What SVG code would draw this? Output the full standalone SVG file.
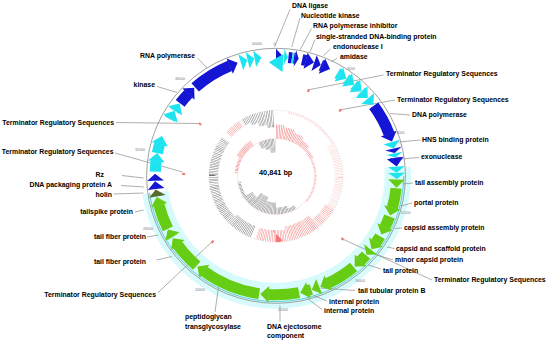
<svg xmlns="http://www.w3.org/2000/svg" width="550" height="343" viewBox="0 0 550 343">
<style>
.lb{font-family:"Liberation Sans",Arial,sans-serif;font-size:6.9px;font-weight:bold;fill:#000}
.e{text-anchor:end}
.tk{font-family:"Liberation Sans",Arial,sans-serif;font-size:3.6px;fill:#7a7a7a;text-anchor:middle}
.ld{stroke:#8c8c8c;stroke-width:0.7;fill:none}
.b{fill:none;stroke-width:11}
.B{stroke:#1515d4}.C{stroke:#1fe4ef}.G{stroke:#67cc14}
.hB{fill:#1515d4}.hC{fill:#1fe4ef}.hG{fill:#67cc14}.hO{fill:#566b2c}
.m{fill:none;stroke:#fff}
.tm{fill:none;stroke:#ef7f7f;stroke-width:3}
</style>
<defs>
<path id="h" d="M0,-127 L8.5,-119 L0,-110.5 Z"/>
<path id="hr" d="M0,-122 L-14,-113 L0,-104 Z"/>
<mask id="mOG" maskUnits="userSpaceOnUse" x="-200" y="-200" width="400" height="400">
<circle class="m" r="62.5" stroke-width="7" pathLength="360" stroke-dasharray="6 360" transform="rotate(-121)"/>
<circle class="m" r="61" stroke-width="10" pathLength="360" stroke-dasharray="7 360" transform="rotate(-115)"/>
<circle class="m" r="59" stroke-width="14" pathLength="360" stroke-dasharray="8 360" transform="rotate(-108)"/>
<circle class="m" r="57.5" stroke-width="17" pathLength="360" stroke-dasharray="8 360" transform="rotate(-100)"/>
<circle class="m" r="60" stroke-width="12" pathLength="360" stroke-dasharray="23 360" transform="rotate(112)"/>
<circle class="m" r="61.5" stroke-width="9" pathLength="360" stroke-dasharray="81 360" transform="rotate(135)"/>
</mask>
<mask id="mOP" maskUnits="userSpaceOnUse" x="-200" y="-200" width="400" height="400">
<circle class="m" r="62.5" stroke-width="7" pathLength="360" stroke-dasharray="15 360" transform="rotate(-138)"/>
<circle class="m" r="62" stroke-width="8" pathLength="360" stroke-dasharray="60 360" transform="rotate(-30)" style="stroke:#5a5a5a"/>
<circle class="m" r="64.75" stroke-width="2.5" pathLength="360" stroke-dasharray="50 360" transform="rotate(-80)" style="stroke:#777"/>
<circle class="m" r="61" stroke-width="10" pathLength="360" stroke-dasharray="20 360" transform="rotate(30)" style="stroke:#ccc"/>
<circle class="m" r="58.5" stroke-width="15" pathLength="360" stroke-dasharray="30 360" transform="rotate(50)"/>
<circle class="m" r="60" stroke-width="12" pathLength="360" stroke-dasharray="28 360" transform="rotate(80)"/>
</mask>
<mask id="mIP" maskUnits="userSpaceOnUse" x="-200" y="-200" width="400" height="400">
<circle class="m" r="45" stroke-width="14" pathLength="360" stroke-dasharray="10 360" transform="rotate(-90)"/>
<circle class="m" r="44" stroke-width="12" pathLength="360" stroke-dasharray="12 360" transform="rotate(-80)"/>
<circle class="m" r="42.75" stroke-width="9.5" pathLength="360" stroke-dasharray="13 360" transform="rotate(-68)"/>
<circle class="m" r="41.25" stroke-width="6.5" pathLength="360" stroke-dasharray="13 360" transform="rotate(-55)"/>
<circle class="m" r="39.75" stroke-width="3.5" pathLength="360" stroke-dasharray="15 360" transform="rotate(-42)"/>
<circle class="m" r="39" stroke-width="2" pathLength="360" stroke-dasharray="67 360" transform="rotate(-27)" style="stroke:#aaa"/>
<circle class="m" r="41" stroke-width="6" pathLength="360" stroke-dasharray="27 360" transform="rotate(-152)"/>
<circle class="m" r="39.5" stroke-width="3" pathLength="360" stroke-dasharray="23 360" transform="rotate(-175)"/>
</mask>
<mask id="mIG" maskUnits="userSpaceOnUse" x="-200" y="-200" width="400" height="400">
<circle class="m" r="34.5" stroke-width="7" pathLength="360" stroke-dasharray="7 360" transform="rotate(-117)"/>
<circle class="m" r="33" stroke-width="10" pathLength="360" stroke-dasharray="8 360" transform="rotate(-110)"/>
<circle class="m" r="31" stroke-width="14" pathLength="360" stroke-dasharray="11 360" transform="rotate(-102)"/>
<circle class="m" r="36" stroke-width="4" pathLength="360" stroke-dasharray="12 360" transform="rotate(58)"/>
<circle class="m" r="34.5" stroke-width="7" pathLength="360" stroke-dasharray="20 360" transform="rotate(70)"/>
<circle class="m" r="32" stroke-width="12" pathLength="360" stroke-dasharray="20 360" transform="rotate(90)"/>
<circle class="m" r="30" stroke-width="16" pathLength="360" stroke-dasharray="22 360" transform="rotate(110)"/>
<circle class="m" r="33" stroke-width="10" pathLength="360" stroke-dasharray="15 360" transform="rotate(132)"/>
<circle class="m" r="36.5" stroke-width="3" pathLength="360" stroke-dasharray="25 360" transform="rotate(147)"/>
</mask>
</defs>
<rect width="550" height="343" fill="#fff"/>

<g id="backbone" transform="translate(276 175.8) scale(1.015 1)">
<circle r="120" fill="none" stroke="#d7fbfc" stroke-width="26" pathLength="360" stroke-dasharray="176 360" transform="rotate(-4)"/>
<circle r="127.5" fill="none" stroke="#8a8a8a" stroke-width="0.8"/>
<circle r="125.8" fill="none" stroke="#3cc6c6" stroke-width="0.8" pathLength="360" stroke-dasharray="172 360" transform="rotate(0)"/>
</g>

<g id="gc-content" transform="translate(276 176.3) scale(1.015 1)">
<circle r="66" fill="none" stroke="#b5b5b5" stroke-width="0.5" stroke-dasharray="0.6 1.2"/>
<circle r="57.5" fill="none" stroke="#707070" stroke-width="18" pathLength="360" stroke-dasharray="0.45 1.05" mask="url(#mOG)"/>
<circle r="57.5" fill="none" stroke="#f07878" stroke-width="18" pathLength="360" stroke-dasharray="0.45 1.05" mask="url(#mOP)"/>
</g>
<g id="gc-skew" transform="translate(276 176.5) scale(1.015 1)">
<circle r="38" fill="none" stroke="#f3a5a5" stroke-width="0.6" stroke-dasharray="0.7 0.9"/>
<circle r="45" fill="none" stroke="#f07878" stroke-width="15" pathLength="360" stroke-dasharray="0.7 1.3" mask="url(#mIP)"/>
<circle r="29.5" fill="none" stroke="#707070" stroke-width="17" pathLength="360" stroke-dasharray="0.8 1.4" mask="url(#mIG)"/>
</g>

<g id="connectors">
<path class="ld" d="M290,9.5 L274.5,47"/>
<path class="ld" d="M300,18 L291.7,47"/>
<path class="ld" d="M311.5,28.5 L300,50"/>
<path class="ld" d="M315,39.5 L310,52"/>
<path class="ld" d="M330.5,49 L323.5,55.5"/>
<path class="ld" d="M337,58.5 L331.5,61.5"/>
<path class="ld" d="M383.5,75 L307.5,90"/>
<path class="ld" d="M395,100 L339,110"/>
<path class="ld" d="M410,115 L390,113.5"/>
<path class="ld" d="M420.5,140 L398.5,142"/>
<path class="ld" d="M419,157.5 L400.5,159"/>
<path class="ld" d="M413,183 L402.5,184"/>
<path class="ld" d="M412,203 L400.5,206"/>
<path class="ld" d="M402,228 L395,228.5"/>
<path class="ld" d="M394.5,248.5 L387,247"/>
<path class="ld" d="M393,260 L377.5,255"/>
<path class="ld" d="M381,269 L368.5,265"/>
<path class="ld" d="M432,280 L341.5,238.5"/>
<path class="ld" d="M355,290.5 L320.5,288"/>
<path class="ld" d="M327,301 L313.5,295.5"/>
<path class="ld" d="M322,309.5 L307.5,298.5"/>
<path class="ld" d="M280,321.5 L280,305.5"/>
<path class="ld" d="M215,312 L218.5,287"/>
<path class="ld" d="M158,292.5 L213.5,240.5"/>
<path class="ld" d="M197.5,58 L207,68"/>
<path class="ld" d="M157,86.5 L177,92.5"/>
<path class="ld" d="M116,122.5 L198.5,123.5"/>
<path class="ld" d="M115,153 L182.5,172"/>
<path class="ld" d="M122,175.5 L143.5,178"/>
<path class="ld" d="M121,185.5 L144,187"/>
<path class="ld" d="M113.5,194 L143.5,193"/>
<path class="ld" d="M135,212 L143.5,210"/>
<path class="ld" d="M147,237 L158.5,235"/>
<path class="ld" d="M156.5,260 L172,256.5"/>
</g>

<g id="dna-ligase"><g transform="translate(276 175.8) scale(1.015 1)"><use href="#h" class="hB" transform="rotate(0) scale(0.856 1)"/></g><text class="lb" x="292" y="7.5">DNA ligase</text></g>
<g id="orf-cyan-1"><g transform="translate(276 175.8) scale(1.015 1)"><use href="#h" class="hC" transform="rotate(3.8) scale(0.44 1)"/><use href="#hr" class="hC" transform="rotate(3.5)"/></g></g>
<g id="nucleotide-kinase"><g transform="translate(276 175.8) scale(1.015 1)"><circle class="b B" r="119" pathLength="360" stroke-dasharray="1.7 360" transform="rotate(-84.1)"/></g><text class="lb" x="301" y="17.8">Nucleotide kinase</text></g>
<g id="orf-cyan-2"><g transform="translate(276 175.8) scale(1.015 1)"><circle class="b C" r="119" pathLength="360" stroke-dasharray="0.9 360" transform="rotate(-82.4)"/></g></g>
<g id="rna-polymerase-inhibitor"><g transform="translate(276 175.8) scale(1.015 1)"><circle class="b B" r="119" pathLength="360" stroke-dasharray="0.6 360" transform="rotate(-81.5)"/><use href="#h" class="hB" transform="rotate(9) scale(0.44 1)"/></g><text class="lb" x="313" y="28">RNA polymerase inhibitor</text></g>
<g id="ssdna-binding-protein"><g transform="translate(276 175.8) scale(1.015 1)"><circle class="b B" r="119" pathLength="360" stroke-dasharray="1.86 360" transform="rotate(-77.5)"/><use href="#h" class="hB" transform="rotate(14.21)"/></g><text class="lb" x="316" y="38.7">single-stranded DNA-binding protein</text></g>
<g id="endonuclease-i"><g transform="translate(276 175.8) scale(1.015 1)"><use href="#h" class="hB" transform="rotate(18.4) scale(0.807 1)"/></g><text class="lb" x="333" y="49.3">endonuclease I</text></g>
<g id="amidase"><g transform="translate(276 175.8) scale(1.015 1)"><circle class="b B" r="119" pathLength="360" stroke-dasharray="0.76 360" transform="rotate(-68.2)"/><use href="#h" class="hB" transform="rotate(22.41)"/></g><text class="lb" x="340" y="59.3">amidase</text></g>
<g id="orf-cyan-3"><g transform="translate(276 175.8) scale(1.015 1)">
<circle class="b C" r="119" pathLength="360" stroke-dasharray="1.06 360" transform="rotate(-59.5)"/><use href="#h" class="hC" transform="rotate(31.41)"/>
<circle class="b C" r="119" pathLength="360" stroke-dasharray="0.76 360" transform="rotate(-54.5)"/><use href="#h" class="hC" transform="rotate(36.11)"/>
<circle class="b C" r="119" pathLength="360" stroke-dasharray="0.76 360" transform="rotate(-49.8)"/><use href="#h" class="hC" transform="rotate(40.81)"/>
<circle class="b C" r="119" pathLength="360" stroke-dasharray="0.46 360" transform="rotate(-45.1)"/><use href="#h" class="hC" transform="rotate(45.21)"/>
<use href="#h" class="hC" transform="rotate(49.5) scale(0.978 1)"/>
</g></g>
<g id="dna-polymerase"><g transform="translate(276 175.8) scale(1.015 1)"><circle class="b B" r="119" pathLength="360" stroke-dasharray="15.36 360" transform="rotate(-36)"/><use href="#h" class="hB" transform="rotate(69.21)"/></g><text class="lb" x="412" y="117">DNA polymerase</text></g>
<g id="orf-cyan-4"><g transform="translate(276 175.8) scale(1.015 1)"><use href="#h" class="hC" transform="rotate(73.5) scale(0.782 1)"/><use href="#h" class="hC" transform="rotate(79.1) scale(0.513 1)"/></g></g>
<g id="hns-binding-protein"><g transform="translate(276 175.8) scale(1.015 1)"><use href="#h" class="hB" transform="rotate(76.8) scale(0.538 1)"/></g><text class="lb" x="422" y="142">HNS binding protein</text></g>
<g id="exonuclease"><g transform="translate(276 175.8) scale(1.015 1)"><circle class="b B" r="119" pathLength="360" stroke-dasharray="0.3 360" transform="rotate(-8.7)"/><use href="#h" class="hB" transform="rotate(81.41)"/></g><text class="lb" x="421" y="159.3">exonuclease</text></g>
<g id="orf-cyan-5"><g transform="translate(276 175.8) scale(1.015 1)"><use href="#h" class="hC" transform="rotate(85.6) scale(0.709 1)"/><use href="#h" class="hC" transform="rotate(88.6) scale(0.733 1)"/></g></g>
<g id="tail-assembly-protein"><g transform="translate(276 175.8) scale(1.015 1)"><use href="#h" class="hG" transform="rotate(91.8) scale(0.978 1)"/></g><text class="lb" x="415" y="185">tail assembly protein</text></g>
<g id="portal-protein"><g transform="translate(276 175.8) scale(1.015 1)"><circle class="b G" r="119" pathLength="360" stroke-dasharray="9.56 360" transform="rotate(6)"/><use href="#h" class="hG" transform="rotate(105.41)"/></g><text class="lb" x="414" y="205">portal protein</text></g>
<g id="capsid-assembly-protein"><g transform="translate(276 175.8) scale(1.015 1)"><circle class="b G" r="119" pathLength="360" stroke-dasharray="5.56 360" transform="rotate(20)"/><use href="#h" class="hG" transform="rotate(115.41)"/></g><text class="lb" x="404" y="230">capsid assembly protein</text></g>
<g id="capsid-scaffold-protein"><g transform="translate(276 175.8) scale(1.015 1)"><circle class="b G" r="119" pathLength="360" stroke-dasharray="3.56 360" transform="rotate(30.5)"/><use href="#h" class="hG" transform="rotate(123.91)"/></g><text class="lb" x="396" y="251">capsid and scaffold protein</text></g>
<g id="minor-capsid-protein"><g transform="translate(276 175.8) scale(1.015 1)"><use href="#h" class="hG" transform="rotate(128.3) scale(0.782 1)"/></g><text class="lb" x="395" y="262.3">minor capsid protein</text></g>
<g id="tail-protein"><g transform="translate(276 175.8) scale(1.015 1)"><circle class="b G" r="119" pathLength="360" stroke-dasharray="3.76 360" transform="rotate(41.8)"/><use href="#h" class="hG" transform="rotate(135.41)"/></g><text class="lb" x="383" y="273">tail protein</text></g>
<g id="tail-tubular-protein-b"><g transform="translate(276 175.8) scale(1.015 1)"><circle class="b G" r="119" pathLength="360" stroke-dasharray="14.56 360" transform="rotate(50)"/><use href="#h" class="hG" transform="rotate(154.41)"/></g><text class="lb" x="358" y="293">tail tubular protein B</text></g>
<g id="internal-protein-1"><g transform="translate(276 175.8) scale(1.015 1)"><use href="#h" class="hG" transform="rotate(159) scale(0.929 1)"/></g><text class="lb" x="329" y="304">internal protein</text></g>
<g id="internal-protein-2"><g transform="translate(276 175.8) scale(1.015 1)"><circle class="b G" r="119" pathLength="360" stroke-dasharray="1.56 360" transform="rotate(73)"/><use href="#h" class="hG" transform="rotate(164.41)"/></g><text class="lb" x="324" y="313">internal protein</text></g>
<g id="dna-ejectosome-component"><g transform="translate(276 175.8) scale(1.015 1)"><circle class="b G" r="119" pathLength="360" stroke-dasharray="14.56 360" transform="rotate(79)"/><use href="#h" class="hG" transform="rotate(183.41)"/></g><text class="lb" x="267" y="329">DNA ejectosome</text><text class="lb" x="267" y="338">component</text></g>
<g id="peptidoglycan-transglycosylase"><g transform="translate(276 175.8) scale(1.015 1)"><circle class="b G" r="119" pathLength="360" stroke-dasharray="28.56 360" transform="rotate(98)"/><use href="#h" class="hG" transform="rotate(216.41)"/></g><text class="lb" x="185" y="319">peptidoglycan</text><text class="lb" x="185" y="328.5">transglycosylase</text></g>
<g id="tail-fiber-protein-2"><g transform="translate(276 175.8) scale(1.015 1)"><circle class="b G" r="119" pathLength="360" stroke-dasharray="13.56 360" transform="rotate(131)"/><use href="#h" class="hG" transform="rotate(234.41)"/></g><text class="lb e" x="146" y="263.5">tail fiber protein</text></g>
<g id="tail-fiber-protein-1"><g transform="translate(276 175.8) scale(1.015 1)"><circle class="b G" r="119" pathLength="360" stroke-dasharray="0.36 360" transform="rotate(149)"/><use href="#h" class="hG" transform="rotate(239.21)"/></g><text class="lb e" x="146" y="238.5">tail fiber protein</text></g>
<g id="tailspike-protein"><g transform="translate(276 175.8) scale(1.015 1)"><circle class="b G" r="119" pathLength="360" stroke-dasharray="12.36 360" transform="rotate(153.5)"/><use href="#h" class="hG" transform="rotate(255.71)"/></g><text class="lb e" x="133" y="214">tailspike protein</text></g>
<g id="holin"><g transform="translate(276 175.8) scale(1.015 1)"><use href="#h" class="hO" transform="rotate(260) scale(0.831 1)"/></g><text class="lb e" x="112" y="196.7">holin</text></g>
<g id="dna-packaging-protein-a"><g transform="translate(276 175.8) scale(1.015 1)"><use href="#h" class="hB" transform="rotate(263.6) scale(0.929 1)"/></g><text class="lb e" x="112" y="187">DNA packaging protein A</text></g>
<g id="rz"><g transform="translate(276 175.8) scale(1.015 1)"><use href="#h" class="hB" transform="rotate(267.6) scale(0.831 1)"/></g><text class="lb e" x="104" y="177.3">Rz</text></g>
<g id="orf-cyan-6"><g transform="translate(276 175.8) scale(1.015 1)">
<circle class="b C" r="119" pathLength="360" stroke-dasharray="5.06 360" transform="rotate(182)"/><use href="#h" class="hC" transform="rotate(276.91)"/>
<circle class="b C" r="119" pathLength="360" stroke-dasharray="4.56 360" transform="rotate(191)"/><use href="#h" class="hC" transform="rotate(285.41)"/>
<circle class="b C" r="119" pathLength="360" stroke-dasharray="0.56 360" transform="rotate(208.5)"/><use href="#h" class="hC" transform="rotate(298.91)"/>
<circle class="b C" r="119" pathLength="360" stroke-dasharray="0.36 360" transform="rotate(213)"/><use href="#h" class="hC" transform="rotate(303.21)"/>
</g></g>
<g id="kinase"><g transform="translate(276 175.8) scale(1.015 1)"><circle class="b B" r="119" pathLength="360" stroke-dasharray="6.06 360" transform="rotate(217.5)"/><use href="#h" class="hB" transform="rotate(313.41)"/></g><text class="lb e" x="155" y="87">kinase</text></g>
<g id="rna-polymerase"><g transform="translate(276 175.8) scale(1.015 1)"><circle class="b B" r="119" pathLength="360" stroke-dasharray="19.56 360" transform="rotate(228)"/><use href="#h" class="hB" transform="rotate(337.41)"/></g><text class="lb e" x="195" y="57.5">RNA polymerase</text></g>
<g id="orf-cyan-7"><g transform="translate(276 175.8) scale(1.015 1)"><use href="#h" class="hC" transform="rotate(343) scale(0.807 1)"/><use href="#h" class="hC" transform="rotate(346.4) scale(0.807 1)"/><use href="#h" class="hC" transform="rotate(349.8) scale(0.807 1)"/></g></g>

<g id="terminator-1"><g transform="translate(276 175.8) scale(1.015 1)"><circle class="tm" r="91" pathLength="360" stroke-dasharray="1.4 360" transform="rotate(-70.1)"/></g><text class="lb" x="386" y="76">Terminator Regulatory Sequences</text></g>
<g id="terminator-2"><g transform="translate(276 175.8) scale(1.015 1)"><circle class="tm" r="91" pathLength="360" stroke-dasharray="1.4 360" transform="rotate(-46.6)"/></g><text class="lb" x="397" y="101.5">Terminator Regulatory Sequences</text></g>
<g id="terminator-3"><g transform="translate(276 175.8) scale(1.015 1)"><circle class="tm" r="91" pathLength="360" stroke-dasharray="1.4 360" transform="rotate(43.3)"/></g><text class="lb" x="434" y="281.5">Terminator Regulatory Sequences</text></g>
<g id="terminator-4"><g transform="translate(276 175.8) scale(1.015 1)"><circle class="tm" r="91" pathLength="360" stroke-dasharray="1.4 360" transform="rotate(132.8)"/></g><text class="lb e" x="156" y="297">Terminator Regulatory Sequences</text></g>
<g id="terminator-5"><g transform="translate(276 175.8) scale(1.015 1)"><circle class="tm" r="91" pathLength="360" stroke-dasharray="1.4 360" transform="rotate(-179.5)"/></g><text class="lb e" x="113.5" y="154">Terminator Regulatory Sequences</text></g>
<g id="terminator-6"><g transform="translate(276 175.8) scale(1.015 1)"><circle class="tm" r="91" pathLength="360" stroke-dasharray="1.4 360" transform="rotate(-146)"/></g><text class="lb e" x="114" y="125">Terminator Regulatory Sequences</text></g>

<g id="genome-size"><text x="275.7" y="174.8" style="font-family:'Liberation Sans',Arial,sans-serif;font-size:7.3px;font-weight:bold;fill:#000;text-anchor:middle">40,841 bp</text></g>
<g id="scale-labels">
<text class="tk" x="274.5" y="45">0</text>
<text class="tk" x="351" y="70">4000</text>
<text class="tk" x="400.5" y="133.5">8000</text>
<text class="tk" x="405.5" y="213.5">12000</text>
<text class="tk" x="360" y="282">16000</text>
<text class="tk" x="283" y="311">20000</text>
<text class="tk" x="200" y="291">24000</text>
<text class="tk" x="148" y="230">28000</text>
<text class="tk" x="140" y="151">32000</text>
<text class="tk" x="180" y="80">36000</text>
<text class="tk" x="257" y="45">40000</text>
</g>
</svg>
